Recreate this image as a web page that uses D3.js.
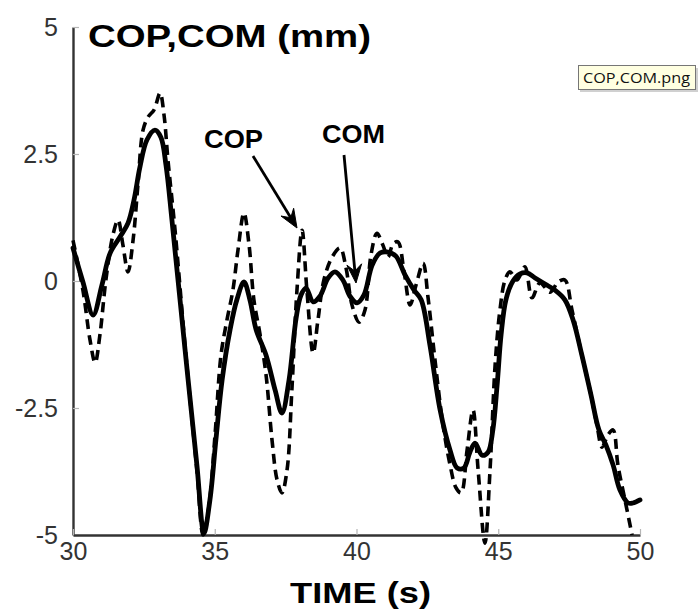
<!DOCTYPE html>
<html>
<head>
<meta charset="utf-8">
<script src="https://cdn.jsdelivr.net/npm/d3@7"></script>
<style>
  html, body { margin: 0; padding: 0; background: #fff; }
  svg { display: block; }
</style>
</head>
<body>
<svg id="chart" width="698" height="612"></svg>
<script>
// ---- data ----
const comTime = [30.00,30.35,30.71,31.02,31.31,31.66,31.94,32.15,32.36,32.61,32.89,33.10,33.28,33.49,33.95,34.37,34.62,34.83,35.04,35.26,35.54,35.78,36.03,36.24,36.46,36.81,37.13,37.37,37.62,37.87,38.04,38.22,38.47,38.71,39.00,39.24,39.52,39.77,40.02,40.26,40.55,40.83,41.11,41.39,41.71,42.03,42.28,42.59,42.95,43.30,43.55,43.79,44.00,44.18,44.43,44.64,44.81,44.96,45.10,45.27,45.52,45.77,46.01,46.30,46.65,47.00,47.35,47.64,47.95,48.27,48.55,48.80,49.05,49.29,49.58,49.75,50.00];
const comValue = [0.65,-0.02,-0.67,-0.08,0.55,0.87,1.14,1.59,2.24,2.78,2.97,2.83,2.28,1.20,-1.34,-3.62,-4.96,-4.31,-3.13,-1.95,-0.96,-0.37,-0.02,-0.37,-0.96,-1.46,-2.15,-2.60,-1.95,-0.73,-0.28,-0.14,-0.41,-0.30,0.06,0.18,0.02,-0.30,-0.43,-0.28,0.31,0.55,0.57,0.49,0.12,-0.18,-0.37,-1.26,-2.54,-3.33,-3.68,-3.68,-3.37,-3.19,-3.43,-3.37,-2.93,-2.05,-1.06,-0.37,0.00,0.14,0.16,0.06,-0.06,-0.18,-0.37,-0.77,-1.46,-2.24,-2.93,-3.23,-3.62,-4.11,-4.37,-4.37,-4.31];

const copTime = [30.00,30.35,30.60,30.78,30.95,31.16,31.41,31.59,31.76,31.94,32.12,32.29,32.47,32.65,32.86,33.07,33.21,33.35,33.60,33.95,34.37,34.59,34.80,35.01,35.22,35.43,35.64,35.82,36.03,36.21,36.38,36.60,36.81,37.02,37.20,37.37,37.55,37.72,37.90,38.08,38.25,38.47,38.64,38.85,39.14,39.42,39.63,39.84,40.09,40.30,40.51,40.72,40.93,41.11,41.29,41.46,41.68,41.89,42.10,42.35,42.52,42.77,43.05,43.30,43.51,43.69,43.90,44.11,44.29,44.53,44.71,44.89,45.06,45.24,45.41,45.66,45.94,46.19,46.47,46.83,47.11,47.35,47.60,47.95,48.27,48.48,48.66,48.87,49.05,49.22,49.47,49.72];
const copValue = [0.80,-0.18,-1.16,-1.61,-1.06,0.02,0.91,1.20,0.71,0.18,0.81,1.89,2.97,3.23,3.37,3.70,3.27,2.38,1.00,-1.26,-3.72,-5.00,-4.41,-3.03,-1.46,-0.77,-0.18,0.61,1.34,0.71,-0.37,-1.06,-1.85,-3.13,-3.92,-4.17,-3.72,-2.15,-0.18,1.00,-0.18,-1.42,-0.77,0.02,0.47,0.65,0.26,-0.47,-0.81,-0.57,0.51,0.94,0.71,0.47,0.73,0.77,0.18,-0.47,-0.08,0.35,-0.31,-1.56,-2.83,-3.62,-4.07,-4.17,-3.33,-2.54,-3.72,-5.16,-3.72,-1.65,-0.57,0.02,0.18,0.02,0.28,-0.33,-0.04,-0.22,-0.02,0.02,-0.57,-1.46,-2.24,-2.83,-3.27,-3.03,-2.93,-3.62,-4.31,-5.00];

const xTicks = [30, 35, 40, 45, 50];
const yTicks = [-5, -2.5, 0, 2.5, 5];
const yTickLabels = ["-5", "-2.5", "0", "2.5", "5"];
const titleText = "COP,COM (mm)";
const xTitleText = "TIME (s)";
const labelCOP = "COP";
const labelCOM = "COM";
const tooltipText = "COP,COM.png";

// ---- drawing ----
const svg = d3.select("#chart");
const x = d3.scaleLinear().domain([30, 50]).range([73, 640]);
const y = d3.scaleLinear().domain([-5, 5]).range([535, 27]);

const font = "'Liberation Sans', Arial, Helvetica, sans-serif";

// axes
const yAxis = d3.axisLeft(y)
  .tickValues(yTicks)
  .tickFormat((d, i) => yTickLabels[i])
  .tickSizeInner(-6).tickSizeOuter(0).tickPadding(15);
const gy = svg.append("g").attr("transform", "translate(73,0)").call(yAxis);

const xAxis = d3.axisBottom(x)
  .tickValues(xTicks)
  .tickFormat(d3.format("d"))
  .tickSizeInner(-6).tickSizeOuter(0).tickPadding(7);
const gx = svg.append("g").attr("transform", "translate(0,535)").call(xAxis);

[gx, gy].forEach(g => {
  g.select(".domain").attr("stroke", "#333").attr("stroke-width", 2.4);
  g.selectAll(".tick line").attr("stroke", "#b5b5b5").attr("stroke-width", 1.2);
  g.selectAll(".tick text")
    .attr("fill", "#333")
    .style("font-family", font)
    .style("font-size", "25px");
});

// lines
const lineCOM = d3.line()
  .x((d, i) => x(comTime[i]))
  .y((d, i) => y(comValue[i]))
  .curve(d3.curveCatmullRom.alpha(0.5));
const lineCOP = d3.line()
  .x((d, i) => x(copTime[i]))
  .y((d, i) => y(copValue[i]))
  .curve(d3.curveCatmullRom.alpha(0.5));

svg.append("path")
  .datum(copValue)
  .attr("d", lineCOP)
  .attr("fill", "none")
  .attr("stroke", "#000")
  .attr("stroke-width", 3.6)
  .attr("stroke-dasharray", "10,6");

svg.append("path")
  .datum(comValue)
  .attr("d", lineCOM)
  .attr("fill", "none")
  .attr("stroke", "#000")
  .attr("stroke-width", 4.8)
  .attr("stroke-linejoin", "round")
  .attr("stroke-linecap", "round");

// titles
svg.append("text")
  .attr("x", 88).attr("y", 47)
  .attr("textLength", 283).attr("lengthAdjust", "spacingAndGlyphs")
  .style("font-family", font).style("font-weight", "bold").style("font-size", "31px")
  .attr("fill", "#000")
  .text(titleText);

svg.append("text")
  .attr("x", 290).attr("y", 603)
  .attr("textLength", 141).attr("lengthAdjust", "spacingAndGlyphs")
  .style("font-family", font).style("font-weight", "bold").style("font-size", "30px")
  .attr("fill", "#000")
  .text(xTitleText);

// annotations
svg.append("text")
  .attr("x", 204).attr("y", 148)
  .attr("textLength", 59).attr("lengthAdjust", "spacingAndGlyphs")
  .style("font-family", font).style("font-weight", "bold").style("font-size", "25px")
  .attr("fill", "#000")
  .text(labelCOP);
svg.append("text")
  .attr("x", 322).attr("y", 143)
  .attr("textLength", 63).attr("lengthAdjust", "spacingAndGlyphs")
  .style("font-family", font).style("font-weight", "bold").style("font-size", "25px")
  .attr("fill", "#000")
  .text(labelCOM);

function arrow(x1, y1, x2, y2) {
  const ang = Math.atan2(y2 - y1, x2 - x1);
  const len = 20, spread = 0.38;
  svg.append("line")
    .attr("x1", x1).attr("y1", y1).attr("x2", x2 - Math.cos(ang) * 4).attr("y2", y2 - Math.sin(ang) * 4)
    .attr("stroke", "#000").attr("stroke-width", 2.8);
  const p1 = [x2 - len * Math.cos(ang - spread), y2 - len * Math.sin(ang - spread)];
  const p2 = [x2 - len * Math.cos(ang + spread), y2 - len * Math.sin(ang + spread)];
  const pm = [x2 - len * 0.6 * Math.cos(ang), y2 - len * 0.6 * Math.sin(ang)];
  svg.append("path")
    .attr("d", `M${p1[0]},${p1[1]}L${x2},${y2}L${p2[0]},${p2[1]}L${pm[0]},${pm[1]}Z`)
    .attr("fill", "#000").attr("stroke", "#000").attr("stroke-width", 1);
}
arrow(253, 156, 297, 228);
arrow(344, 155, 356, 283);

// tooltip-like label
const tip = svg.append("g");
tip.append("rect").attr("x", 580).attr("y", 68).attr("width", 118).attr("height", 24)
  .attr("fill", "#d0d0d0");
tip.append("rect").attr("x", 578.5).attr("y", 65.5).attr("width", 117).attr("height", 24)
  .attr("fill", "#ffffe1").attr("stroke", "#767676").attr("stroke-width", 1);
tip.append("text").attr("x", 583).attr("y", 83)
  .attr("textLength", 107).attr("lengthAdjust", "spacingAndGlyphs")
  .style("font-family", "'Open Sans', 'DejaVu Sans', sans-serif").style("font-size", "14px")
  .attr("fill", "#111")
  .text(tooltipText);
</script>
</body>
</html>
